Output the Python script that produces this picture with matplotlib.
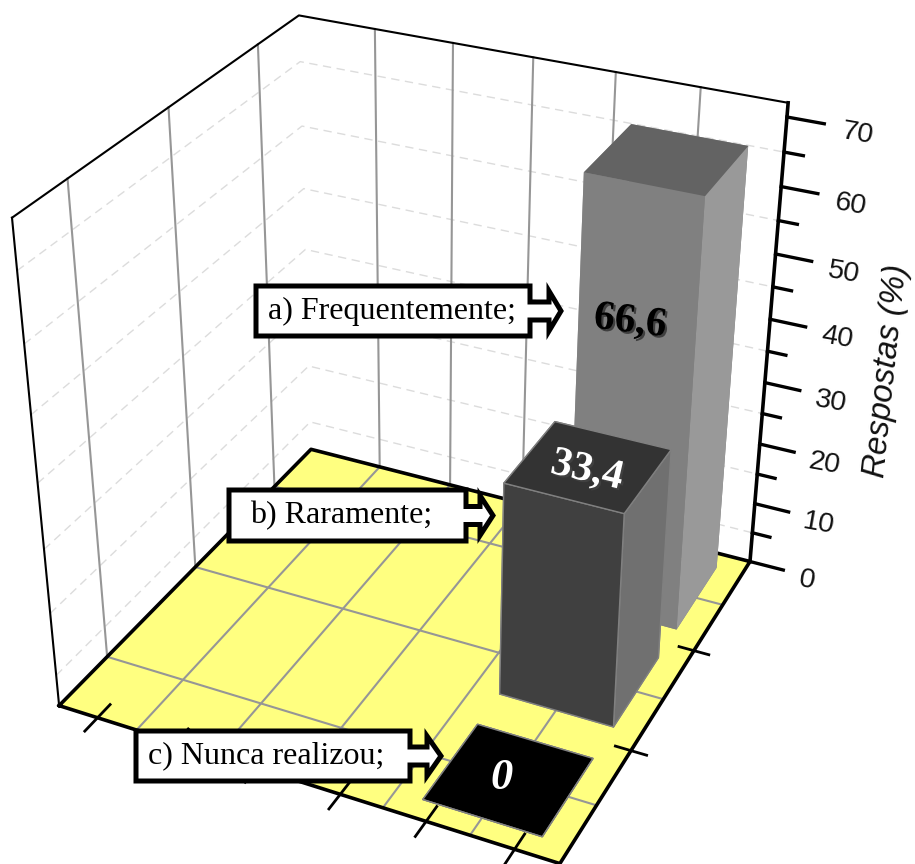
"""Gráfico de barras 3D: frequência de respostas"""
import numpy as np
import matplotlib
matplotlib.use('Agg')
import matplotlib.pyplot as plt
import matplotlib.patheffects as pe
from matplotlib.patches import Polygon
from mpl_toolkits.mplot3d import proj3d
from mpl_toolkits.mplot3d.art3d import Poly3DCollection

# dados
labels = ['a) Frequentemente;', 'b) Raramente;', 'c) Nunca realizou;']
values = [66.6, 33.4, 0]
value_text = ['66,6', '33,4', '0']
bar_x = [5, 5, 5]
bar_y = [3, 2, 1]
z_major = [0, 10, 20, 30, 40, 50, 60, 70]
z_minor = [5, 15, 25, 35, 45, 55, 65]
x_grid = [1, 2, 3, 4, 5]
y_grid = [1, 2, 3]
x_ticks = [0.5, 1.5, 2.5, 3.5, 4.5, 5.5]
y_ticks = [1.5, 2.5]
x_lim = (0, 6)
y_lim = (0.5, 3.5)
z_top = 72

# cantos da caixa -> pixels da figura, para ajustar a camera
world = [(0, 0.5, 0), (6, 0.5, 0), (6, 3.5, 0), (0, 3.5, 0),
         (0, 0.5, 72), (0, 3.5, 72), (6, 3.5, 72)]
screen = [(59, 705), (560, 864), (750, 561), (311, 450),
          (12, 218), (299, 15), (788, 103)]


def fit_camera(world, screen):
    A, b = [], []
    for (x, y, z), (u, v) in zip(world, screen):
        A.append([x, y, z, 1, 0, 0, 0, 0, -u*x, -u*y, -u*z])
        A.append([0, 0, 0, 0, x, y, z, 1, -v*x, -v*y, -v*z])
        b += [u, v]
    p = np.linalg.lstsq(np.array(A, float), np.array(b, float), rcond=None)[0]
    P = np.append(p, 1.0).reshape(3, 4)
    depth = P[2].copy()
    depth[3] -= 0.5
    return np.vstack([P[0], P[1], depth, P[2]])


M = fit_camera(world, screen)

plt.rcParams['font.family'] = ['Liberation Sans', 'DejaVu Sans']
fig = plt.figure(figsize=(9.15, 8.64), dpi=100)
ax = fig.add_axes([0, 0, 1, 1], projection='3d', computed_zorder=False)
# 'ortho' so para o mplot3d nao recortar as linhas; a camera e a matriz M
ax.set_proj_type('ortho')
ax.get_proj = lambda: M
ax.apply_aspect = lambda position=None: None
ax.set_axis_off()
ax.viewLim.intervalx = (0, 915)
ax.viewLim.intervaly = (864, 0)

x0, x1 = x_lim
y0, y1 = y_lim
GRID = '#969696'

# piso
floor = Poly3DCollection([[(x0, y0, 0), (x1, y0, 0), (x1, y1, 0), (x0, y1, 0)]],
                         facecolor='#ffff80', edgecolor='none', zorder=1)
ax.add_collection3d(floor)
for x in x_grid:
    ax.plot([x, x], [y0, y1], [0, 0], color=GRID, lw=1.5, zorder=2)
for y in y_grid:
    ax.plot([x0, x1], [y, y], [0, 0], color=GRID, lw=1.5, zorder=2)

# paredes
for x in x_grid:
    ax.plot([x, x], [y1, y1], [0, z_top], color=GRID, lw=1.5, zorder=2)
for y in y_grid:
    ax.plot([x0, x0], [y, y], [0, z_top], color=GRID, lw=1.5, zorder=2)
for z in z_minor:
    ax.plot([x0, x0, x1], [y0, y1, y1], [z, z, z], color='#dcdcdc', lw=1,
            ls=(0, (6, 4)), zorder=1.5)

# contornos
ax.plot([x0, x0, x1], [y0, y1, y1], [z_top]*3, color='k', lw=1.5, zorder=3)
ax.plot([x0, x0], [y0, y0], [0, z_top], color='k', lw=1.5, zorder=3)
ax.plot([x0, x1, x1, x0, x0], [y0, y0, y1, y1, y0], [0]*5, color='k', lw=2.6, zorder=3)
ax.plot([x1, x1], [y1, y1], [0, z_top], color='k', lw=2.6, zorder=3)

# marcas
for z in z_major:
    ax.plot([x1, x1+0.42], [y1, y1], [z, z], color='k', lw=2.4, zorder=3)
for z in z_minor:
    ax.plot([x1, x1+0.22], [y1, y1], [z, z], color='k', lw=2.4, zorder=3)
for x in x_ticks:
    ax.plot([x, x], [y0-0.13, y0+0.13], [0, 0], color='k', lw=2, zorder=3)
for y in y_ticks:
    ax.plot([x1-0.18, x1+0.18], [y, y], [0, 0], color='k', lw=2, zorder=3)

# barras (ordem das faces: base, topo, -y, +y, -x, +x)
bar_colors = [
    ['#808080', '#636363', '#808080', '#808080', '#999999', '#999999'],
    ['#404040', '#333333', '#404040', '#404040', '#707070', '#707070'],
    ['#000000'] * 6,
]
bar_edges = ['none', '#808080', '#808080']
dx, dy = 1.36, 0.70
for i in range(3):
    ax.bar3d([bar_x[i]-dx/2], [bar_y[i]-dy/2], [0], dx, dy, [values[i]],
             color=bar_colors[i], shade=False, edgecolor=bar_edges[i],
             linewidth=1, zorder=4+i)

# camada 2D para textos e caixas
ov = fig.add_axes([0, 0, 1, 1])
ov.set_xlim(0, 915)
ov.set_ylim(864, 0)
ov.axis('off')
ov.patch.set_alpha(0)


def to_px(x, y, z):
    u, v, _ = proj3d.proj_transform(x, y, z, M)
    return u, v


for z in z_major:
    off = 0.72 if z == 0 else 0.79
    u, v = to_px(x1+off, y1, z)
    ov.text(u, v+4.5, str(z), fontsize=20.5, rotation=-10, ha='center', va='center', color='#111111')
ov.text(887, 371, 'Respostas (%)', fontsize=23.5, style='italic', rotation=84,
        ha='center', va='center', color='#111111')

# rotulos dos valores
serif = ['Liberation Serif', 'DejaVu Serif']
shadow = [pe.withSimplePatchShadow(offset=(1.5, -1.5), alpha=0.5)]
ov.text(630, 322, value_text[0], family=serif, fontsize=30, weight='bold', rotation=-7,
        ha='center', va='center', color='k', path_effects=shadow)
ov.text(587, 471, value_text[1], family=serif, fontsize=30, weight='bold', rotation=-13,
        ha='center', va='center', color='w', path_effects=shadow)
ov.text(502, 778, value_text[2], family=serif, fontsize=32, weight='bold', style='italic',
        ha='center', va='center', color='w')

# caixas com seta: x0, x1, y0, y1, xcabeca, ponta
boxes = [(256, 530, 286, 336, 549, 561), (229, 466, 490, 541, 480, 493),
         (136, 410, 731, 781, 427, 441)]
text_x = [268, 250, 148]
for (bx0, bx1, by0, by1, hx, tip), lab, tx in zip(boxes, labels, text_x):
    ym = (by0+by1)/2
    pts = [(bx0, by0), (bx1, by0), (bx1, ym-9), (hx, ym-9), (hx, ym-20), (tip, ym),
           (hx, ym+20), (hx, ym+9), (bx1, ym+9), (bx1, by1), (bx0, by1)]
    ov.add_patch(Polygon(pts, closed=True, fc='w', ec='k', lw=3.6, joinstyle='miter', zorder=5))
    ov.text(tx, ym, lab, family=serif, fontsize=23, ha='left', va='center', color='k', zorder=6)

fig.savefig('out.png', dpi=100)
